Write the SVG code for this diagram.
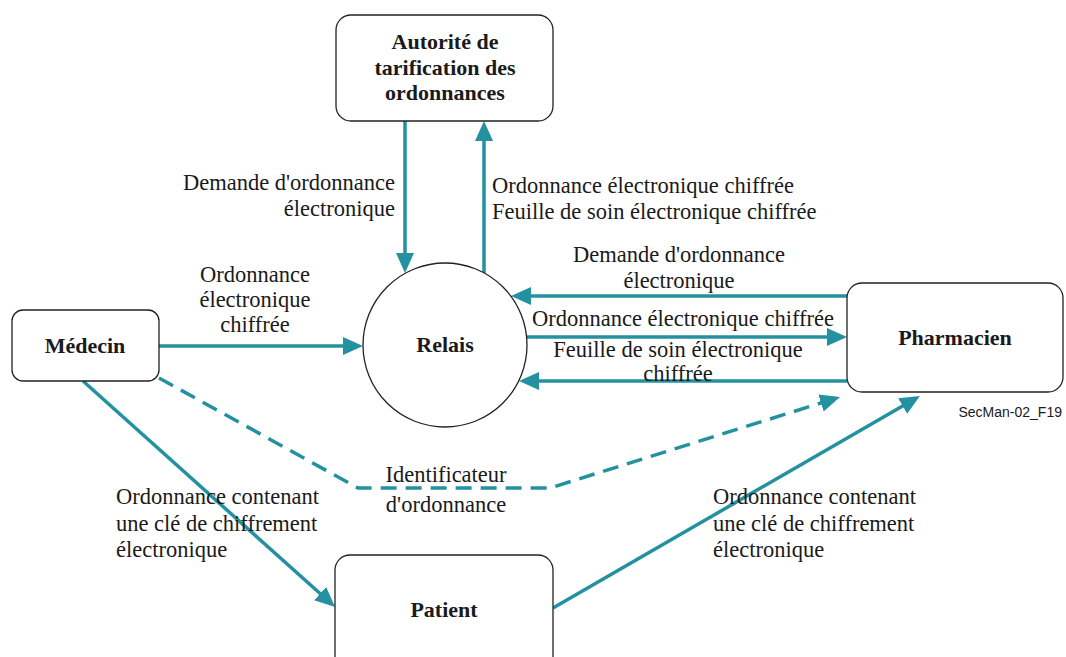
<svg xmlns="http://www.w3.org/2000/svg" width="1066" height="657" viewBox="0 0 1066 657">
  <style>
    .box { fill: #ffffff; stroke: #222222; stroke-width: 1.3; }
    .lbl { font-family: "Liberation Serif", "Times New Roman", serif; font-size: 22.5px; fill: #1a1a1a; }
    .ttl { font-family: "Liberation Serif", "Times New Roman", serif; font-size: 22px; font-weight: bold; fill: #1a1a1a; text-anchor: middle; }
    .flow { fill: none; stroke: #2391a0; stroke-width: 3.5; marker-end: url(#head); }
    .dash { stroke-dasharray: 16 9; }
    .tag { font-family: "Liberation Sans", Arial, sans-serif; font-size: 14px; fill: #1a1a1a; }
  </style>
  <defs>
    <marker id="head" markerUnits="userSpaceOnUse" markerWidth="22" markerHeight="20" refX="10" refY="9" orient="auto">
      <path d="M0,0 L20,9 L0,18 z" fill="#2391a0"/>
    </marker>
  </defs>
  <rect width="1066" height="657" fill="#ffffff"/>

  <!-- connectors -->
  <g id="connectors">
    <line class="flow" x1="405" y1="121" x2="405" y2="263"/>
    <line class="flow" x1="484" y1="273" x2="484" y2="131"/>
    <line class="flow" x1="159" y1="346" x2="353" y2="346"/>
    <line class="flow" x1="847" y1="296" x2="521" y2="296"/>
    <line class="flow" x1="526" y1="337" x2="837" y2="337"/>
    <line class="flow" x1="847" y1="381" x2="529" y2="381"/>
    <polyline class="flow dash" points="159,378 358,488 550,488 830.5,400"/>
    <line class="flow" x1="83" y1="381" x2="327.6" y2="600.3"/>
    <line class="flow" x1="553" y1="608" x2="911.3" y2="401"/>
  </g>

  <!-- connector labels -->
  <g id="labels" class="lbl">
    <text x="395" y="190" text-anchor="end">Demande d'ordonnance</text>
    <text x="395" y="216" text-anchor="end">électronique</text>
    <text x="492" y="193">Ordonnance électronique chiffrée</text>
    <text x="492" y="219">Feuille de soin électronique chiffrée</text>
    <text x="255" y="282" text-anchor="middle">Ordonnance</text>
    <text x="255" y="307" text-anchor="middle">électronique</text>
    <text x="255" y="332" text-anchor="middle">chiffrée</text>
    <text x="679" y="262" text-anchor="middle">Demande d'ordonnance</text>
    <text x="679" y="288" text-anchor="middle">électronique</text>
    <text x="683" y="326" text-anchor="middle">Ordonnance électronique chiffrée</text>
    <text x="678" y="357" text-anchor="middle">Feuille de soin électronique</text>
    <text x="678" y="381" text-anchor="middle">chiffrée</text>
    <text x="446" y="482" text-anchor="middle">Identificateur</text>
    <text x="446" y="512" text-anchor="middle">d'ordonnance</text>
    <text x="116" y="504">Ordonnance contenant</text>
    <text x="116" y="531">une clé de chiffrement</text>
    <text x="116" y="557">électronique</text>
    <text x="713" y="504">Ordonnance contenant</text>
    <text x="713" y="531">une clé de chiffrement</text>
    <text x="713" y="557">électronique</text>
  </g>

  <!-- nodes -->
  <g id="autorite">
    <rect class="box" x="336" y="15" width="217" height="106" rx="15"/>
    <text class="ttl" x="445" y="49">Autorité de</text>
    <text class="ttl" x="445" y="75">tarification des</text>
    <text class="ttl" x="445" y="100">ordonnances</text>
  </g>
  <g id="medecin">
    <rect class="box" x="12" y="310" width="147" height="71" rx="11"/>
    <text class="ttl" x="85" y="353">Médecin</text>
  </g>
  <g id="relais">
    <circle class="box" cx="445" cy="345" r="82"/>
    <text class="ttl" x="445" y="352">Relais</text>
  </g>
  <g id="pharmacien">
    <rect class="box" x="847" y="283" width="216" height="109" rx="15"/>
    <text class="ttl" x="955" y="345">Pharmacien</text>
  </g>
  <g id="patient">
    <rect class="box" x="335" y="555" width="218" height="120" rx="15"/>
    <text class="ttl" x="444" y="617">Patient</text>
  </g>

  <text class="tag" x="1062" y="417" text-anchor="end">SecMan-02_F19</text>
</svg>
